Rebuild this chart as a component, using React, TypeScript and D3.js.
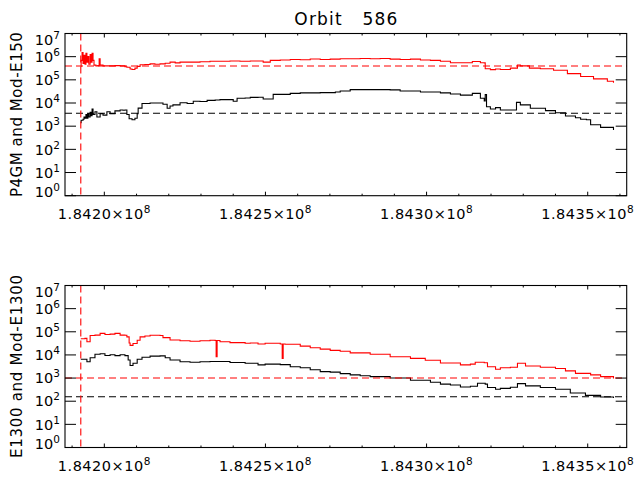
import * as d3 from "d3";
import { useEffect, useRef } from "react";

// Orbit 586 count rates, time in seconds, value in counts
const title = "Orbit   586";
const topLabel = "P4GM and Mod-E150";
const bottomLabel = "E1300 and Mod-E1300";

const xMajorTicks = [184200000, 184250000, 184300000, 184350000];
const xTickLabels = ["1.8420", "1.8425", "1.8430", "1.8435"];
const yDecades = [0, 1, 2, 3, 4, 5, 6, 7];

const orbitStart = 184192700;
const topRedLevel = 3.95e5;
const topBlackLevel = 3.6e3;
const bottomRedLevel = 1.0e3;
const bottomBlackLevel = 155;

const topRed: [number, number][] = [
  [184192700, 3.8e5], [184192800, 6.9e5], [184193100, 1.5e6], [184193400, 5.1e5],
  [184193700, 1.15e6], [184194000, 4.7e5], [184194300, 1.4e6], [184194600, 5.8e5],
  [184194900, 1.0e6], [184195200, 4.7e5], [184195600, 1.25e6], [184195900, 5.8e5],
  [184196200, 1.4e6], [184196500, 6.9e5], [184196800, 4.3e5], [184197400, 4.0e5],
  [184198000, 4.1e5], [184198400, 8.0e5], [184198700, 4.3e5], [184199600, 4.0e5],
  [184201800, 4.0e5], [184203300, 4.1e5], [184204900, 4.0e5], [184206400, 3.7e5],
  [184207000, 3.5e5], [184208000, 2.95e5], [184208600, 2.8e5], [184209500, 3.2e5],
  [184210200, 3.8e5], [184211100, 4.5e5], [184212600, 4.6e5], [184214200, 4.9e5],
  [184215700, 4.7e5], [184217300, 4.9e5], [184218900, 5.2e5], [184220400, 5.8e5],
  [184222000, 5.4e5], [184223500, 5.8e5], [184226600, 5.8e5], [184229700, 6.0e5],
  [184232800, 6.3e5], [184235900, 6.3e5], [184239000, 6.5e5], [184242100, 6.3e5],
  [184245300, 6.5e5], [184249300, 5.8e5], [184251500, 6.9e5], [184254600, 7.2e5],
  [184257700, 7.6e5], [184260800, 7.4e5], [184263900, 7.9e5], [184267000, 7.6e5],
  [184270100, 7.8e5], [184273200, 8.1e5], [184276300, 8.1e5], [184279400, 8.3e5],
  [184282500, 8.1e5], [184285600, 8.3e5], [184288700, 7.8e5], [184291800, 7.6e5],
  [184295000, 7.8e5], [184298100, 7.2e5], [184301200, 6.9e5], [184304300, 6.3e5],
  [184307400, 5.5e5], [184310500, 5.5e5], [184314200, 6.2e5], [184316700, 5.5e5],
  [184317900, 5.4e5], [184318200, 3.0e5], [184319800, 2.75e5], [184321400, 2.95e5],
  [184322900, 2.8e5], [184326000, 3.2e5], [184328200, 4.4e5], [184329100, 4.0e5],
  [184331900, 3.2e5], [184335300, 3.0e5], [184339400, 2.6e5], [184343700, 1.85e5],
  [184347800, 1.4e5], [184351800, 1.1e5], [184356100, 8.7e4], [184358000, 7.4e4],
];

const topBlack: [number, number][] = [
  [184192700, 1.4e3], [184192800, 1.8e3], [184193400, 2.0e3], [184193700, 2.5e3],
  [184194000, 2.2e3], [184194300, 3.2e3], [184194600, 2.2e3], [184194900, 3.5e3],
  [184195200, 2.5e3], [184195600, 4.0e3], [184195900, 2.8e3], [184196200, 5.5e3],
  [184196500, 3.2e3], [184197100, 4.2e3], [184197700, 2.5e3], [184198700, 3.5e3],
  [184199600, 3.0e3], [184200800, 4.2e3], [184201800, 3.5e3], [184203300, 4.6e3],
  [184204900, 5.0e3], [184205800, 4.9e3], [184206400, 5.0e3], [184207000, 3.2e3],
  [184207700, 2.1e3], [184208600, 1.9e3], [184209500, 2.2e3], [184210200, 3.5e3],
  [184210500, 6.0e3], [184211700, 9.5e3], [184214200, 1.0e4], [184217300, 1.0e4],
  [184218200, 8.9e3], [184219500, 5.9e3], [184220400, 7.4e3], [184221300, 8.3e3],
  [184223500, 1.02e4], [184225700, 9.5e3], [184227600, 1.2e4], [184229700, 1.17e4],
  [184231900, 1.3e4], [184234400, 1.35e4], [184235900, 1.4e4], [184239000, 1.4e4],
  [184240000, 1.2e4], [184241200, 1.6e4], [184243700, 1.65e4], [184245300, 1.75e4],
  [184247700, 1.78e4], [184249300, 1.5e4], [184252400, 2.35e4], [184257700, 2.6e4],
  [184260800, 2.75e4], [184267000, 2.8e4], [184271700, 3.0e4], [184273200, 3.3e4],
  [184276300, 3.8e4], [184282500, 3.8e4], [184288700, 3.7e4], [184291800, 3.3e4],
  [184298100, 3.0e4], [184304300, 2.75e4], [184307400, 2.45e4], [184310500, 2.2e4],
  [184314200, 2.6e4], [184316700, 1.6e4], [184317900, 1.23e4], [184318200, 2.3e4],
  [184318600, 6.9e3], [184319800, 5.5e3], [184321400, 6.3e3], [184322900, 5.0e3],
  [184326000, 5.0e3], [184327900, 1.07e4], [184329100, 8.3e3], [184332200, 5.9e3],
  [184336900, 4.7e3], [184340000, 3.8e3], [184343100, 2.75e3], [184346200, 2.3e3],
  [184347800, 2.0e3], [184349600, 1.9e3], [184350900, 1.15e3], [184354000, 890],
  [184358000, 690],
];

const bottomRed: [number, number][] = [
  [184192700, 5.0e4], [184194000, 5.2e4], [184194600, 3.7e4], [184195600, 6.9e4],
  [184197100, 7.2e4], [184198700, 8.5e4], [184200200, 7.6e4], [184201800, 7.9e4],
  [184203300, 8.5e4], [184204900, 7.2e4], [184206400, 7.1e4], [184207000, 6.0e4],
  [184207700, 3.3e4], [184208000, 2.6e4], [184208900, 3.1e4], [184210200, 4.3e4],
  [184211100, 6.0e4], [184212600, 6.6e4], [184214200, 7.1e4], [184217300, 6.9e4],
  [184218200, 5.6e4], [184220400, 4.4e4], [184223500, 4.1e4], [184226600, 3.9e4],
  [184229700, 4.1e4], [184232800, 4.3e4], [184234400, 4.2e4], [184234700, 8.3e3],
  [184235000, 4.2e4], [184235900, 3.7e4], [184239000, 3.4e4], [184243700, 3.2e4],
  [184245300, 3.3e4], [184247700, 2.95e4], [184249900, 3.2e4], [184254600, 2.95e4],
  [184255200, 7.1e3], [184255500, 2.95e4], [184256100, 2.9e4], [184260800, 2.4e4],
  [184263900, 2.05e4], [184267000, 1.78e4], [184270100, 1.58e4], [184273200, 1.45e4],
  [184276300, 1.23e4], [184282500, 1.07e4], [184288700, 8.3e3], [184295000, 7.1e3],
  [184299600, 5.9e3], [184304300, 4.5e3], [184310500, 3.7e3], [184313600, 4.0e3],
  [184315100, 4.8e3], [184317900, 4.6e3], [184318900, 3.1e3], [184321400, 2.4e3],
  [184322900, 2.8e3], [184326000, 2.95e3], [184328200, 4.4e3], [184330700, 3.3e3],
  [184335300, 2.95e3], [184340000, 2.6e3], [184343100, 2.05e3], [184346200, 1.6e3],
  [184350900, 1.38e3], [184354000, 1.15e3], [184358000, 955],
];

const bottomBlack: [number, number][] = [
  [184192700, 6.5e3], [184194000, 6.5e3], [184194600, 5.1e3], [184195600, 7.6e3],
  [184197100, 1.07e4], [184198700, 1.12e4], [184200200, 9.5e3], [184201800, 1.02e4],
  [184203300, 9.3e3], [184204900, 1.02e4], [184206400, 9.3e3], [184207400, 6.0e3],
  [184208000, 3.5e3], [184208900, 4.4e3], [184210200, 6.5e3], [184211700, 7.9e3],
  [184214200, 8.9e3], [184217300, 9.1e3], [184218900, 7.6e3], [184220400, 6.0e3],
  [184223500, 5.1e3], [184226600, 4.8e3], [184229700, 5.1e3], [184232800, 5.2e3],
  [184235900, 5.2e3], [184239000, 4.7e3], [184243700, 4.4e3], [184247700, 3.7e3],
  [184249900, 4.0e3], [184254600, 3.8e3], [184257700, 3.1e3], [184260800, 2.8e3],
  [184263900, 2.3e3], [184267000, 1.9e3], [184270100, 1.8e3], [184273200, 1.55e3],
  [184276300, 1.38e3], [184279400, 1.26e3], [184282500, 1.15e3], [184288700, 1.0e3],
  [184295000, 810], [184301200, 660], [184304300, 550], [184307400, 500],
  [184310500, 410], [184313600, 440], [184315800, 600], [184318200, 550],
  [184318900, 390], [184321400, 330], [184322900, 360], [184326000, 400],
  [184328200, 575], [184330700, 460], [184335300, 390], [184340000, 330],
  [184344600, 225], [184349300, 178], [184354000, 151], [184358000, 138],
];

const App = () => {
  const svgRef = useRef<SVGSVGElement>(null);
  useEffect(() => {
    if (!svgRef.current) return;
    const svg = d3.select(svgRef.current);
    svg.selectAll("*").remove();

    const width = 643;
    const height = 480;
    const marginLeft = 65;
    const marginRight = 16.3;
    const font = "'DejaVu Sans', sans-serif";

    svg.append("rect").attr("width", width).attr("height", height).attr("fill", "white");

    const x = d3
      .scaleLinear()
      .domain([184187800, 184362100])
      .range([marginLeft, width - marginRight]);

    const panels = [
      { top: 33.5, bottom: 195.7, label: topLabel, labelLen: 165, red: topRed, black: topBlack, redLevel: topRedLevel, blackLevel: topBlackLevel },
      { top: 285.5, bottom: 447.5, label: bottomLabel, labelLen: 183, red: bottomRed, black: bottomBlack, redLevel: bottomRedLevel, blackLevel: bottomBlackLevel },
    ];

    panels.forEach((p) => {
      const y = d3.scaleLog().domain([1, 1e7]).range([p.bottom, p.top]);
      const g = svg.append("g");
      // stepped like the original histogram-style plot
      const line = d3
        .line<[number, number]>()
        .curve(d3.curveStepAfter)
        .x((d) => x(d[0]))
        .y((d) => y(d[1]));

      g.append("path")
        .datum(p.black)
        .attr("d", line)
        .attr("fill", "none")
        .attr("stroke", "black")
        .attr("stroke-width", 1.1);
      g.append("path")
        .datum(p.red)
        .attr("d", line)
        .attr("fill", "none")
        .attr("stroke", "#ff0000")
        .attr("stroke-width", 1.1);

      // reference levels
      [
        { v: p.redLevel, c: "#ff0000" },
        { v: p.blackLevel, c: "black" },
      ].forEach((r) => {
        g.append("line")
          .attr("x1", marginLeft)
          .attr("x2", width - marginRight)
          .attr("y1", y(r.v))
          .attr("y2", y(r.v))
          .attr("stroke", r.c)
          .attr("stroke-width", 1.1)
          .attr("stroke-dasharray", "7,4");
      });
      g.append("line")
        .attr("x1", x(orbitStart))
        .attr("x2", x(orbitStart))
        .attr("y1", p.top)
        .attr("y2", p.bottom)
        .attr("stroke", "#ff0000")
        .attr("stroke-width", 1.1)
        .attr("stroke-dasharray", "7,4");

      // frame
      g.append("rect")
        .attr("x", marginLeft)
        .attr("y", p.top)
        .attr("width", width - marginRight - marginLeft)
        .attr("height", p.bottom - p.top)
        .attr("fill", "none")
        .attr("stroke", "black")
        .attr("stroke-width", 1.1);

      // y ticks and labels
      yDecades.forEach((e) => {
        const yy = y(10 ** e);
        g.append("line").attr("x1", marginLeft).attr("x2", marginLeft + 11).attr("y1", yy).attr("y2", yy).attr("stroke", "black");
        g.append("line").attr("x1", width - marginRight - 11).attr("x2", width - marginRight).attr("y1", yy).attr("y2", yy).attr("stroke", "black");
        const shift = e === 7 ? 6 : e === 0 ? -3.5 : 0;
        const t = g.append("text")
          .attr("x", 60)
          .attr("y", yy + 5.2 + shift)
          .attr("text-anchor", "end")
          .attr("font-family", font)
          .attr("font-size", 14.5)
          .text("10");
        t.append("tspan").attr("dy", -6).attr("font-size", 10.5).text(String(e));
      });

      // x ticks
      d3.range(184190000, 184362000, 10000).forEach((t) => {
        const xx = x(t);
        const len = t % 50000 === 0 ? 4 : 2;
        g.append("line").attr("x1", xx).attr("x2", xx).attr("y1", p.bottom).attr("y2", p.bottom - len).attr("stroke", "black");
        g.append("line").attr("x1", xx).attr("x2", xx).attr("y1", p.top).attr("y2", p.top + len).attr("stroke", "black");
      });
      xMajorTicks.forEach((t, i) => {
        const lbl = g.append("text")
          .attr("x", x(t))
          .attr("y", p.bottom + 23)
          .attr("text-anchor", "middle")
          .attr("font-family", font)
          .attr("font-size", 14.5)
          .attr("letter-spacing", 0.5)
          .text(xTickLabels[i] + "\u00d710");
        lbl.append("tspan").attr("dy", -5.5).attr("font-size", 10.5).text("8");
      });

      // y title
      const cy = (p.top + p.bottom) / 2;
      g.append("text")
        .attr("transform", `translate(21.5,${cy}) rotate(-90)`)
        .attr("text-anchor", "middle")
        .attr("font-family", font)
        .attr("font-size", 15)
        .attr("textLength", p.labelLen)
        .attr("lengthAdjust", "spacing")
        .text(p.label);
    });

    svg.append("text")
      .attr("x", (marginLeft + width - marginRight) / 2)
      .attr("y", 25)
      .attr("text-anchor", "middle")
      .attr("font-family", font)
      .attr("font-size", 17)
      .attr("textLength", 103)
      .attr("lengthAdjust", "spacing")
      .style("white-space", "pre")
      .text(title);
  }, []);
  return (
    <svg
      ref={svgRef}
      width={643}
      height={480}
      style={{ position: "absolute", left: 0, top: 0 }}
    ></svg>
  );
};

export default App;
